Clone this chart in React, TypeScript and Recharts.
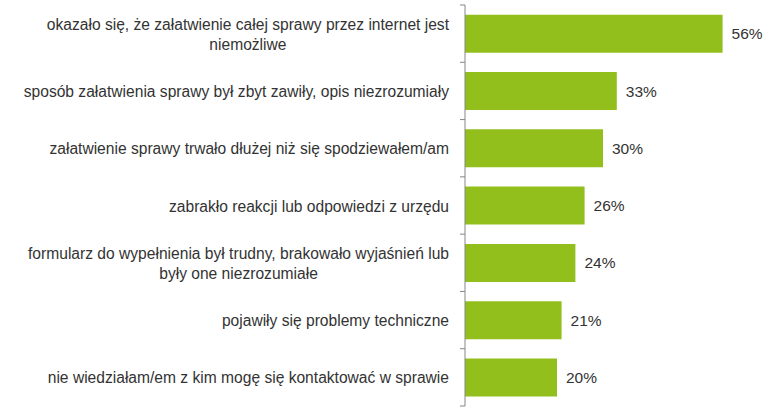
import React from "react"
import { Bar, BarChart, LabelList, XAxis, YAxis } from "recharts"

// category labels, each split into display lines
const categories: string[][] = [
  ["okazało się, że załatwienie całej sprawy przez internet jest", "niemożliwe"],
  ["sposób załatwienia sprawy był zbyt zawiły, opis niezrozumiały"],
  ["załatwienie sprawy trwało dłużej niż się spodziewałem/am"],
  ["zabrakło reakcji lub odpowiedzi z urzędu"],
  ["formularz do wypełnienia był trudny, brakowało wyjaśnień lub", "były one niezrozumiałe"],
  ["pojawiły się problemy techniczne"],
  ["nie wiedziałam/em z kim mogę się kontaktować w sprawie"],
]
const values: number[] = [56, 33, 30, 26, 24, 21, 20]

const data = categories.map((lines, i) => ({
  name: lines.join(" "),
  lines,
  value: values[i],
}))

const WIDTH = 777
const HEIGHT = 417
const MARGIN = { top: 5, right: 36, bottom: 11, left: 0 }
const AXIS_WIDTH = 465
const FONT = '15.6px "Liberation Sans", Arial, sans-serif'
const TEXT = "#333333"
const GREEN = "#92bf1c"
const AXIS = "#868686"

const band = (HEIGHT - MARGIN.top - MARGIN.bottom) / categories.length

let ctx: CanvasRenderingContext2D | null = null
const measure = (s: string) => {
  if (!ctx) ctx = document.createElement("canvas").getContext("2d")
  if (!ctx) return s.length * 7
  ctx.font = FONT
  return ctx.measureText(s).width
}

const CategoryTick = (props: any) => {
  const { y, payload, index } = props
  const lines: string[] = categories[payload.index ?? index] ?? [payload.value]
  const right = AXIS_WIDTH - 16
  const w = Math.max(...lines.map(measure))
  const cx = right - w / 2
  const lh = 20
  const y0 = y - ((lines.length - 1) * lh) / 2
  const isLast = index === categories.length - 1
  return (
    <g>
      <line x1={AXIS_WIDTH - 5} x2={AXIS_WIDTH} y1={y - band / 2} y2={y - band / 2} stroke={AXIS} />
      {isLast && (
        <line x1={AXIS_WIDTH - 5} x2={AXIS_WIDTH} y1={y + band / 2} y2={y + band / 2} stroke={AXIS} />
      )}
      <text
        x={cx}
        y={y0}
        textAnchor="middle"
        dominantBaseline="central"
        fill={TEXT}
        style={{ font: FONT }}
      >
        {lines.map((l, i) => (
          <tspan key={i} x={cx} y={y0 + i * lh}>
            {l}
          </tspan>
        ))}
      </text>
    </g>
  )
}

export default function App() {
  return (
    <div style={{ position: "absolute", left: 0, top: 0, background: "#fff" }}>
      <BarChart
        width={WIDTH}
        height={HEIGHT}
        data={data}
        layout="vertical"
        margin={MARGIN}
        barCategoryGap="17%"
      >
        <XAxis type="number" domain={[0, 60]} hide />
        <YAxis
          type="category"
          dataKey="name"
          width={AXIS_WIDTH}
          axisLine={{ stroke: AXIS }}
          tickLine={false}
          tick={<CategoryTick />}
          interval={0}
        />
        <Bar dataKey="value" fill={GREEN} isAnimationActive={false}>
          <LabelList
            dataKey="value"
            position="right"
            offset={9}
            formatter={(v: any) => `${v}%`}
            style={{ font: '15.5px "Liberation Sans", Arial, sans-serif', fill: TEXT }}
          />
        </Bar>
      </BarChart>
    </div>
  )
}
